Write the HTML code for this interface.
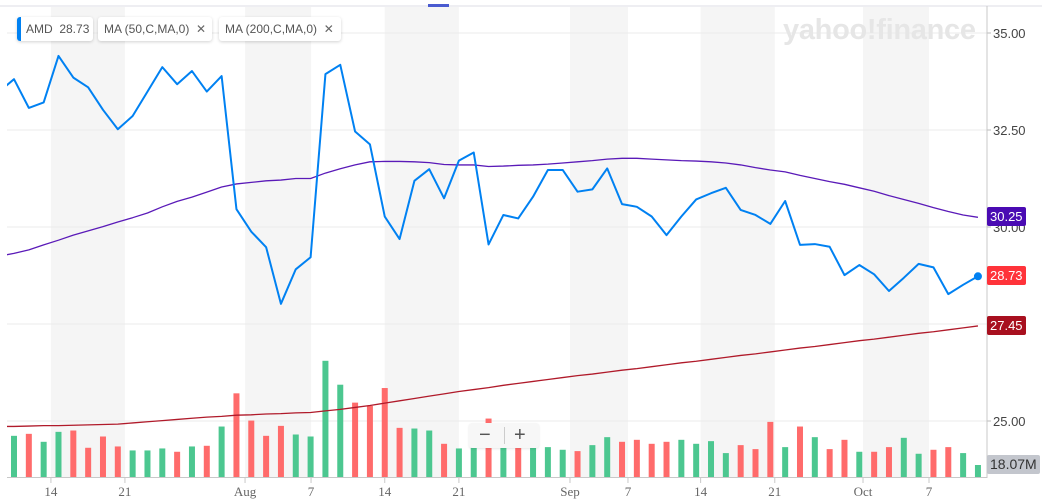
<!DOCTYPE html>
<html><head><meta charset="utf-8">
<style>
body{margin:0;background:#fff;}
#wrap{position:relative;width:1042px;height:501px;overflow:hidden;font-family:"Liberation Sans",sans-serif;}
.leg{position:absolute;top:17px;height:24px;background:#fff;border-radius:3px;box-shadow:0 1px 3px rgba(0,0,0,.18);font-size:12px;color:#555;line-height:24px;padding:0 5px 0 6px;white-space:nowrap;}
.badge{position:absolute;left:987px;height:19px;line-height:19px;font-size:13px;color:#fff;padding:0 3px;border-radius:2px;}
</style></head>
<body>
<div id="wrap">
<svg id="chart" width="1042" height="501" style="position:absolute;left:0;top:0"></svg>
<div class="leg" style="left:17px;width:62px;padding-left:9px"><span style="position:absolute;left:0;top:0;width:4px;height:24px;background:#0081f2;border-radius:3px 0 0 3px"></span>AMD&nbsp; 28.73</div>
<div class="leg" style="left:98px;width:103px">MA (50,C,MA,0)&nbsp; <span style="color:#666">✕</span></div>
<div class="leg" style="left:219px;width:111px">MA (200,C,MA,0)&nbsp; <span style="color:#666">✕</span></div>
<div style="position:absolute;left:783px;top:14px;font-size:29px;font-weight:bold;color:#e6e6e6;letter-spacing:-0.3px">yahoo!finance</div>
<div class="badge" style="top:207px;background:#4a0bb3">30.25</div>
<div class="badge" style="top:266px;background:#ff333a">28.73</div>
<div class="badge" style="top:316px;background:#a8101f">27.45</div>
<div class="badge" style="top:455px;background:#c3c6cd;color:#333;font-size:14px">18.07M</div>
<div style="position:absolute;left:469px;top:423px;width:70px;height:25px;background:#f7f7f7;border-radius:3px;box-shadow:0 1px 2px rgba(0,0,0,.1);font-size:20px;color:#555;line-height:24px">
<span style="position:absolute;left:10px">−</span>
<span style="position:absolute;left:35px;top:4px;width:1px;height:17px;background:#ccc"></span>
<span style="position:absolute;left:45px">+</span>
</div>
</div>
<script>
const prior = 33.49;
const price = [33.81,33.07,33.21,34.41,33.85,33.60,33.02,32.52,32.86,33.49,34.12,33.68,34.02,33.49,33.89,30.46,29.88,29.48,28.02,28.91,29.22,33.94,34.18,32.46,32.13,30.27,29.69,31.19,31.49,30.74,31.71,31.92,29.55,30.31,30.22,30.78,31.47,31.47,30.91,30.97,31.51,30.59,30.52,30.27,29.79,30.27,30.71,30.87,31.01,30.44,30.31,30.08,30.67,29.54,29.56,29.49,28.76,29.02,28.78,28.35,28.69,29.05,28.96,28.27,28.51,28.73];
const ma50 = [29.32,29.41,29.54,29.66,29.79,29.90,30.01,30.13,30.24,30.36,30.52,30.66,30.77,30.90,31.03,31.11,31.15,31.19,31.21,31.25,31.25,31.39,31.50,31.60,31.68,31.69,31.69,31.68,31.66,31.61,31.60,31.60,31.56,31.57,31.59,31.60,31.62,31.65,31.68,31.71,31.75,31.77,31.77,31.75,31.73,31.71,31.70,31.68,31.65,31.60,31.53,31.47,31.42,31.33,31.25,31.17,31.10,31.01,30.92,30.81,30.71,30.61,30.50,30.40,30.31,30.25];
const ma200 = [24.86,24.87,24.88,24.88,24.89,24.90,24.91,24.92,24.95,24.98,25.01,25.04,25.07,25.10,25.12,25.15,25.16,25.18,25.19,25.21,25.22,25.26,25.30,25.35,25.40,25.46,25.52,25.58,25.64,25.70,25.76,25.81,25.86,25.92,25.97,26.02,26.07,26.12,26.17,26.21,26.26,26.31,26.35,26.40,26.45,26.50,26.54,26.59,26.64,26.69,26.73,26.78,26.83,26.88,26.92,26.97,27.02,27.07,27.11,27.16,27.21,27.26,27.30,27.35,27.40,27.45];
const volume = [62,65,53,68,70,44,61,46,40,40,43,38,46,47,76,126,85,62,77,64,61,175,139,112,107,134,74,73,70,50,43,44,88,44,44,44,45,41,39,48,60,53,56,50,53,56,50,54,36,48,42,83,45,76,60,42,56,38,38,45,59,35,41,45,36,18.07];
const up = [1,0,1,1,0,0,0,0,1,1,1,0,1,0,1,0,0,0,0,1,1,1,1,0,0,0,0,1,1,0,1,1,0,1,0,1,1,1,0,1,1,0,0,0,0,1,1,1,1,0,0,0,1,0,1,0,0,1,0,0,1,1,0,0,1,1];
const tickLabels = ["14","21","Aug","7","14","21","Sep","7","14","21","Oct","7"];
const tickPos = [2.49,7.48,15.58,20.03,25.0,30.0,37.49,41.4,46.3,51.3,57.25,61.7];
const bandPairs = [[0,1],[2,3],[4,5],[6,7],[8,9],[10,11]];
const yTicks = [35.00,32.50,30.00,27.50,25.00];
const yTickLabels = ["35.00","32.50","30.00","","25.00"];

const svg = document.getElementById('chart');
const NS = 'http://www.w3.org/2000/svg';
const X = i => 14 + i * 14.83;
const Y = p => 33 + (35 - p) * 38.8;
const VY = v => 477 - v * 0.664;
const AX = 987;
function mk(t, a){const e=document.createElementNS(NS,t);for(const k in a)e.setAttribute(k,a[k]);svg.appendChild(e);return e;}

let e = mk('line',{x1:0,x2:1042,y1:6,y2:6,stroke:'#dcdce6','stroke-width':1});


e = mk('rect',{x:428,y:4,width:21,height:3,fill:'#4a5bd0'});



bandPairs.forEach(([a,b])=>{
  const r = mk('rect',{x:X(tickPos[a]),y:7,width:X(tickPos[b])-X(tickPos[a]),height:470,fill:'#f5f5f5'});
  
  
});
yTicks.forEach((v,i)=>{
  const g = mk('line',{x1:7,x2:AX,y1:Y(v),y2:Y(v),stroke:'#ebebeb','stroke-width':1});
  
  
  if(yTickLabels[i]){
    const t = mk('text',{x:AX+6,y:Y(v)+5,'font-size':13,fill:'#444','font-family':'Liberation Sans, sans-serif'});
    t.textContent = yTickLabels[i];
    
    
    const tk = mk('line',{x1:AX,x2:AX+4,y1:Y(v),y2:Y(v),stroke:'#bbb'});
    
    
  }
});
volume.forEach((v,i)=>{
  const r = mk('rect',{x:X(i)-3,y:VY(v),width:6,height:477-VY(v),fill:up[i]?'#4cc790':'#ff6b6b'});
  
  
});
function line(arr,color,w,name,start){
  let d = start!==undefined ? 'M'+X(-1)+','+Y(start)+' L' : 'M';
  d += arr.map((p,i)=>X(i)+','+Y(p)).join(' L');
  const p = mk('path',{d:d,fill:'none',stroke:color,'stroke-width':w,'stroke-linejoin':'round','clip-path':'url(#clip)'});
  
  
}
const defs = mk('defs',{});
const cp = document.createElementNS(NS,'clipPath'); cp.setAttribute('id','clip');
const cr = document.createElementNS(NS,'rect'); cr.setAttribute('x',7);cr.setAttribute('y',7);cr.setAttribute('width',AX-7);cr.setAttribute('height',470);
cp.appendChild(cr); defs.appendChild(cp);
line(ma200,'#b01a2a',1.3,'ma200-line',ma200[0]);
line(ma50,'#5a1ab8',1.3,'ma50-line',ma50[0]-0.07);
line(price,'#0081f2',2,'price-line',prior);
e = mk('circle',{cx:X(price.length-1),cy:Y(price[price.length-1]),r:4,fill:'#0081f2'});



e = mk('line',{x1:AX,x2:AX,y1:6,y2:478,stroke:'#c8c8c8'});


e = mk('line',{x1:7,x2:AX,y1:477.5,y2:477.5,stroke:'#c8c8c8'});


tickLabels.forEach((l,i)=>{
  const x = X(tickPos[i]);
  const tk = mk('line',{x1:x,x2:x,y1:478,y2:483,stroke:'#c8c8c8'});
  
  
  const t = mk('text',{x:x,y:496,'font-size':13,fill:'#666','text-anchor':'middle','font-family':'Liberation Serif, serif'});
  t.textContent = l;
  
  
});
</script>
</body></html>
